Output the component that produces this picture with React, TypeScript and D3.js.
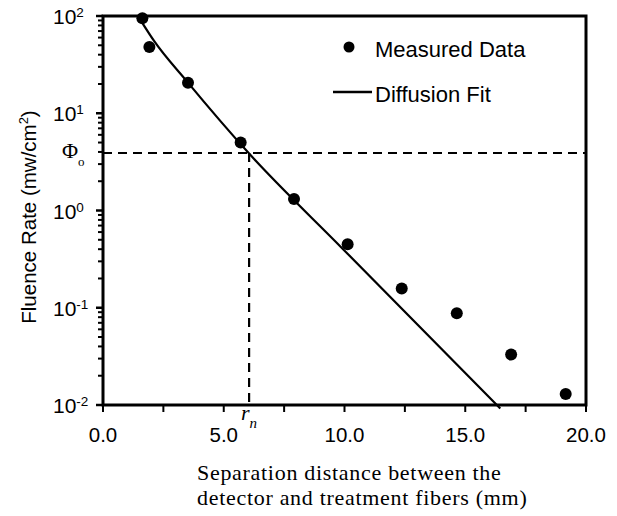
import React from "react";
import * as d3 from "d3";

// Measured data (separation distance mm, fluence rate mW/cm^2)
const measuredX = [1.63, 1.92, 3.52, 5.7, 7.91, 10.13, 12.37, 14.65, 16.9, 19.16];
const measuredY = [95, 48, 20.6, 5.0, 1.31, 0.45, 0.158, 0.088, 0.033, 0.013];

// Diffusion fit curve
const fitX = [1.6, 2.1, 3.5, 6.05, 9.9, 16.45];
const fitY = [87, 56, 20.9, 3.85, 0.41, 0.0092];

// Reference values
const phiO = 3.9;
const rN = 6.05;

// Axes
const xDomain = [0, 20];
const xTicks = [0, 2.5, 5, 7.5, 10, 12.5, 15, 17.5, 20];
const xLabels = [0, 5, 10, 15, 20];
const yDomain = [0.01, 100];
const yMajorExp = [-2, -1, 0, 1, 2];

const legendLabels = ["Measured Data", "Diffusion Fit"];
const yTitle = "Fluence Rate (mw/cm";
const xTitle1 = "Separation distance between the";
const xTitle2 = "detector and treatment fibers (mm)";

const SANS = "'Liberation Sans', Arial, Helvetica, sans-serif";
const SERIF = "'Liberation Serif', 'Times New Roman', Times, serif";

export default function App() {
  const W = 617;
  const H = 516;
  const left = 103, right = 586, top = 16, bottom = 405;
  const x = d3.scaleLinear().domain(xDomain).range([left, right]);
  const y = d3.scaleLog().domain(yDomain).range([bottom, top]);

  const minorY: number[] = [];
  for (let e = -2; e < 2; e++) {
    for (let m = 2; m <= 9; m++) minorY.push(m * Math.pow(10, e));
  }

  const fitData = fitX.map((v, i) => [v, fitY[i]] as [number, number]);
  const line = d3
    .line<[number, number]>()
    .x((d) => x(d[0]))
    .y((d) => y(d[1]))
    .curve(d3.curveMonotoneX);

  return (
    <svg
      width={W}
      height={H}
      style={{ position: "absolute", left: 0, top: 0, display: "block", background: "#fff" }}
    >
      {/* dashed reference lines */}
      <line
        x1={left}
        x2={right}
        y1={y(phiO)}
        y2={y(phiO)}
        stroke="#000"
        strokeWidth={2.2}
        strokeDasharray="9,6"
      />
      <line
        x1={x(rN)}
        x2={x(rN)}
        y1={y(phiO)}
        y2={bottom}
        stroke="#000"
        strokeWidth={2.2}
        strokeDasharray="9,6"
      />

      {/* fit line */}
      <path d={line(fitData) || ""} fill="none" stroke="#000" strokeWidth={2.2} />

      {/* measured points */}
      {measuredX.map((v, i) => (
        <circle key={i} cx={x(v)} cy={y(measuredY[i])} r={6} fill="#000" />
      ))}

      {/* frame */}
      <rect
        x={left}
        y={top}
        width={right - left}
        height={bottom - top}
        fill="none"
        stroke="#000"
        strokeWidth={3}
      />

      {/* x ticks */}
      {xTicks.map((t) => (
        <line key={"xt" + t} x1={x(t)} x2={x(t)} y1={bottom} y2={bottom + 7} stroke="#000" strokeWidth={2} />
      ))}
      {xLabels.map((t) => (
        <text
          key={"xl" + t}
          x={x(t)}
          y={442}
          textAnchor="middle"
          fontFamily={SANS}
          fontSize={20.5}
          fill="#000"
        >
          {d3.format(".1f")(t)}
        </text>
      ))}

      {/* y ticks */}
      {yMajorExp.map((e) => (
        <line
          key={"ym" + e}
          x1={left - 7}
          x2={left}
          y1={y(Math.pow(10, e))}
          y2={y(Math.pow(10, e))}
          stroke="#000"
          strokeWidth={2.5}
        />
      ))}
      {minorY.map((v, i) => (
        <line key={"yn" + i} x1={left - 5} x2={left} y1={y(v)} y2={y(v)} stroke="#000" strokeWidth={2} />
      ))}
      {yMajorExp.map((e) => (
        <text
          key={"yl" + e}
          x={53}
          y={y(Math.pow(10, e)) + 8}
          fontFamily={SANS}
          fontSize={21}
          fill="#000"
        >
          10
          <tspan fontSize={13.5} dy={-7}>
            {e < 0 ? "-" + Math.abs(e) : String(e)}
          </tspan>
        </text>
      ))}

      {/* Phi_o label */}
      <text x={62} y={158} fontFamily={SERIF} fontSize={22} fill="#000">
        Φ
        <tspan fontSize={13} dy={8}>
          o
        </tspan>
      </text>

      {/* r_n label */}
      <text x={241} y={420} fontFamily={SERIF} fontStyle="italic" fontSize={22} fill="#000">
        r
        <tspan fontSize={15} dy={8}>
          n
        </tspan>
      </text>

      {/* y title */}
      <text
        transform={`translate(36, 217) rotate(-90)`}
        textAnchor="middle"
        fontFamily={SANS}
        fontSize={20.5}
        fill="#000"
      >
        {yTitle}
        <tspan fontSize={13} dy={-8}>
          2
        </tspan>
        <tspan dy={8}>)</tspan>
      </text>

      {/* x title */}
      <text x={197} y={479.5} fontFamily={SERIF} fontSize={22} letterSpacing={0.7} fill="#000">
        {xTitle1}
      </text>
      <text x={197} y={504.5} fontFamily={SERIF} fontSize={22} letterSpacing={0.7} fill="#000">
        {xTitle2}
      </text>

      {/* legend */}
      <circle cx={349} cy={47} r={5.5} fill="#000" />
      <text x={375} y={57} fontFamily={SANS} fontSize={22} fill="#000">
        {legendLabels[0]}
      </text>
      <line x1={333} x2={372} y1={92} y2={92} stroke="#000" strokeWidth={2.5} />
      <text x={375} y={102} fontFamily={SANS} fontSize={22} fill="#000">
        {legendLabels[1]}
      </text>
    </svg>
  );
}
